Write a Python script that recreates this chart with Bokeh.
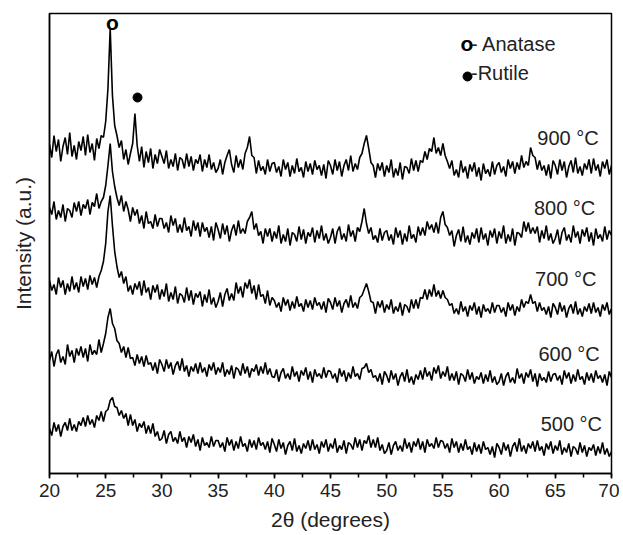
import numpy as np
from bokeh.plotting import figure
from bokeh.models import Range1d, FixedTicker, Label
from bokeh.embed import file_html
from bokeh.resources import INLINE

# 2-theta grid (degrees), 0.2 deg steps from 20 to 70
two_theta = np.round(np.arange(20.0, 70.0001, 0.2), 1)

# Intensities (a.u., already vertically offset as in the figure)
int_900 = [
    329, 316, 338, 322, 334, 312, 327, 336, 319, 341, 317, 328, 314, 332, 323, 337, 318, 339, 321, 330, 313, 335, 325, 338, 336,
    352, 385, 445, 378, 348, 338, 326, 333, 314, 324, 309, 320, 330, 360, 328, 312, 327, 306, 322, 311, 325, 305, 319, 310, 324,
    317, 310, 323, 305, 314, 307, 320, 303, 316, 314, 305, 320, 307, 317, 303, 314, 310, 319, 302, 314, 306, 319, 304, 311, 301,
    305, 314, 299, 311, 318, 324, 309, 301, 318, 306, 314, 304, 320, 326, 337, 318, 316, 300, 313, 303, 307, 299, 314, 302, 310,
    311, 301, 307, 297, 314, 304, 311, 297, 308, 300, 315, 302, 306, 296, 312, 302, 310, 299, 313, 304, 308, 298, 309, 295, 313,
    308, 299, 314, 303, 312, 297, 308, 314, 303, 318, 302, 310, 304, 316, 320, 330, 338, 325, 311, 308, 296, 310, 303, 311, 297,
    308, 301, 314, 296, 305, 298, 311, 294, 307, 306, 300, 315, 303, 313, 302, 313, 311, 322, 314, 325, 322, 336, 320, 326, 318,
    330, 318, 312, 305, 313, 298, 304, 296, 313, 301, 307, 295, 309, 302, 311, 297, 306, 293, 310, 300, 304, 297, 312, 299, 308,
    311, 301, 307, 297, 314, 305, 312, 300, 311, 304, 318, 306, 312, 308, 326, 318, 316, 304, 313, 303, 308, 298, 309, 295, 313,
    308, 299, 314, 303, 312, 296, 307, 313, 301, 316, 300, 307, 298, 310, 304, 314, 300, 315, 303, 309, 297, 312, 305, 314, 299,
    308,
]
int_800 = [
    266, 259, 272, 254, 263, 256, 269, 252, 265, 263, 256, 271, 262, 272, 258, 269, 265, 274, 259, 271, 267, 280, 265, 272, 276,
    288, 308, 330, 302, 287, 276, 268, 278, 262, 272, 264, 252, 266, 258, 264, 250, 258, 245, 262, 250, 252, 245, 259, 247, 255,
    255, 245, 251, 241, 258, 248, 255, 241, 249, 241, 256, 243, 247, 237, 253, 243, 251, 237, 251, 242, 246, 236, 247, 233, 251,
    244, 235, 250, 239, 248, 232, 243, 249, 238, 253, 240, 245, 240, 252, 256, 262, 244, 250, 238, 242, 230, 245, 237, 245, 232,
    242, 235, 248, 230, 239, 232, 245, 228, 241, 239, 232, 247, 234, 244, 230, 241, 237, 246, 231, 243, 235, 248, 233, 240, 230,
    236, 245, 230, 242, 247, 234, 240, 232, 249, 237, 243, 232, 246, 242, 252, 265, 250, 240, 246, 234, 238, 231, 245, 233, 241,
    243, 233, 239, 229, 246, 236, 243, 229, 240, 232, 248, 235, 239, 231, 247, 238, 246, 238, 252, 244, 249, 241, 251, 240, 256,
    262, 249, 246, 238, 243, 227, 238, 244, 232, 247, 231, 238, 229, 241, 235, 245, 231, 246, 234, 240, 228, 243, 236, 245, 230,
    242, 235, 248, 230, 239, 232, 245, 228, 241, 240, 236, 252, 242, 251, 240, 246, 240, 247, 231, 243, 235, 248, 233, 240, 230,
    235, 244, 229, 241, 246, 233, 239, 231, 248, 236, 242, 230, 244, 237, 246, 232, 241, 228, 245, 235, 239, 232, 247, 234, 243,
    238,
]
int_700 = [
    193, 183, 189, 179, 196, 186, 193, 179, 190, 182, 197, 184, 191, 181, 197, 187, 195, 184, 198, 189, 196, 186, 197, 203, 212,
    230, 262, 278, 248, 222, 207, 196, 202, 190, 197, 182, 188, 179, 190, 184, 192, 178, 193, 181, 186, 174, 188, 181, 189, 174,
    184, 177, 190, 172, 181, 174, 187, 170, 180, 178, 171, 186, 173, 183, 169, 180, 176, 182, 167, 179, 171, 184, 169, 176, 166,
    172, 181, 167, 179, 185, 173, 180, 173, 191, 180, 187, 176, 191, 185, 194, 180, 188, 174, 189, 177, 179, 170, 183, 168, 176,
    173, 166, 171, 162, 176, 168, 174, 163, 172, 165, 177, 167, 170, 162, 174, 166, 173, 164, 176, 168, 171, 164, 172, 161, 175,
    171, 164, 176, 167, 173, 161, 170, 174, 166, 178, 166, 171, 165, 176, 178, 184, 190, 182, 172, 171, 160, 172, 166, 173, 161,
    169, 164, 174, 160, 167, 162, 171, 158, 169, 167, 161, 174, 165, 174, 165, 176, 175, 184, 174, 184, 177, 189, 177, 183, 175,
    183, 176, 174, 168, 170, 160, 165, 159, 172, 162, 167, 157, 168, 163, 171, 159, 167, 156, 169, 162, 165, 160, 171, 161, 168,
    168, 161, 166, 157, 171, 163, 169, 158, 167, 162, 174, 166, 172, 170, 179, 170, 172, 162, 171, 163, 166, 159, 167, 156, 170,
    166, 159, 171, 162, 168, 156, 165, 169, 160, 172, 159, 165, 157, 167, 162, 170, 160, 171, 161, 166, 157, 169, 163, 171, 159,
    165,
]
int_600 = [
    113, 122, 107, 119, 124, 111, 117, 109, 129, 117, 123, 111, 125, 118, 127, 116, 125, 112, 129, 119, 123, 119, 134, 121, 130,
    140, 156, 165, 150, 145, 133, 130, 121, 127, 116, 126, 115, 116, 108, 119, 110, 117, 107, 118, 109, 111, 103, 111, 100, 114,
    109, 102, 114, 105, 111, 99, 108, 112, 103, 115, 102, 108, 97, 107, 102, 110, 100, 111, 101, 106, 97, 109, 103, 111, 99,
    106, 101, 111, 97, 104, 99, 108, 95, 106, 104, 98, 110, 100, 107, 96, 105, 102, 109, 98, 107, 100, 111, 99, 105, 97,
    96, 104, 92, 101, 105, 95, 100, 94, 107, 97, 102, 92, 103, 98, 106, 94, 102, 91, 104, 97, 100, 95, 106, 96, 103,
    102, 95, 100, 91, 105, 97, 103, 92, 101, 95, 107, 97, 100, 94, 105, 106, 110, 101, 104, 96, 98, 92, 100, 89, 102,
    98, 91, 103, 94, 100, 88, 97, 101, 92, 104, 91, 97, 89, 99, 94, 103, 94, 106, 97, 102, 93, 106, 100, 108, 95,
    102, 97, 107, 93, 100, 93, 102, 89, 100, 98, 92, 104, 94, 101, 90, 97, 94, 101, 90, 99, 92, 103, 91, 97, 89,
    92, 100, 88, 97, 101, 91, 96, 90, 105, 95, 100, 90, 101, 96, 104, 92, 100, 87, 100, 93, 96, 91, 102, 92, 99,
    100, 93, 98, 89, 103, 95, 101, 90, 99, 92, 104, 94, 97, 89, 101, 93, 100, 91, 103, 95, 98, 91, 99, 88, 102,
    96,
]
int_500 = [
    45, 38, 51, 42, 49, 37, 47, 51, 43, 55, 43, 49, 42, 52, 48, 56, 47, 58, 49, 54, 46, 58, 53, 62, 52,
    62, 64, 73, 76, 67, 66, 58, 63, 55, 60, 48, 59, 48, 54, 42, 50, 46, 52, 40, 48, 40, 50, 37, 42, 33,
    35, 43, 30, 39, 42, 32, 36, 30, 42, 32, 36, 26, 37, 31, 39, 27, 34, 23, 36, 28, 31, 26, 37, 27, 33,
    33, 26, 31, 22, 36, 28, 34, 23, 32, 25, 37, 27, 30, 22, 34, 26, 33, 24, 36, 28, 31, 24, 32, 21, 35,
    29, 22, 34, 25, 31, 19, 28, 32, 23, 35, 22, 28, 20, 30, 25, 33, 23, 34, 24, 29, 20, 32, 26, 34, 22,
    30, 25, 35, 21, 28, 24, 33, 20, 31, 29, 24, 36, 26, 34, 23, 33, 30, 38, 26, 34, 26, 36, 23, 29, 20,
    23, 31, 19, 28, 32, 23, 28, 22, 35, 25, 31, 21, 32, 27, 35, 24, 32, 21, 34, 27, 30, 25, 36, 26, 33,
    32, 25, 30, 21, 35, 26, 32, 21, 30, 23, 34, 24, 27, 19, 31, 22, 29, 20, 32, 24, 26, 19, 27, 16, 30,
    26, 19, 31, 23, 29, 17, 27, 31, 22, 35, 22, 28, 20, 30, 25, 32, 22, 33, 23, 27, 18, 30, 24, 32, 20,
    28, 23, 33, 19, 26, 21, 30, 17, 27, 25, 19, 31, 21, 28, 17, 26, 23, 29, 18, 27, 20, 31, 19, 25, 17,
    22,
]

series = [int_900, int_800, int_700, int_600, int_500]
temp_labels = ["900 \u00b0C", "800 \u00b0C", "700 \u00b0C", "600 \u00b0C", "500 \u00b0C"]
x_ticks = [20, 25, 30, 35, 40, 45, 50, 55, 60, 65, 70]

FONT = "Liberation Sans"

p = figure(width=619, height=534, output_backend="svg", toolbar_location=None,
           x_range=Range1d(20, 70), y_range=Range1d(0, 460),
           min_border_left=49, min_border_right=8, min_border_top=13, min_border_bottom=61)
p.background_fill_color = "white"
p.border_fill_color = "white"
p.outline_line_color = "black"
p.outline_line_width = 1.5
p.xgrid.visible = False
p.ygrid.visible = False

for s in series:
    n = min(len(two_theta), len(s))
    p.line(two_theta[:n], s[:n], line_color="black", line_width=1.6)

# x axis
xa = p.xaxis[0]
xa.ticker = FixedTicker(ticks=x_ticks, minor_ticks=list(np.arange(20, 70.01, 2.5)))
xa.axis_line_width = 1.5
xa.major_tick_line_width = 1.5
xa.minor_tick_line_width = 1.5
xa.major_tick_in = 0
xa.major_tick_out = 5
xa.minor_tick_in = 0
xa.minor_tick_out = 4
xa.major_label_text_font = FONT
xa.major_label_text_font_size = "19px"
xa.major_label_text_color = "#222222"
xa.major_label_standoff = 5
xa.axis_label = "2\u03b8 (degrees)"
xa.axis_label_text_font = FONT
xa.axis_label_text_font_size = "21px"
xa.axis_label_text_font_style = "normal"
xa.axis_label_text_color = "#222222"
xa.axis_label_standoff = 8

# y axis (no ticks)
ya = p.yaxis[0]
ya.ticker = FixedTicker(ticks=[])
ya.major_tick_out = 0
ya.major_tick_in = 0
ya.minor_tick_out = 0
ya.minor_tick_in = 0
ya.major_label_text_font_size = "0px"
ya.axis_line_width = 1.5
ya.axis_label = "Intensity (a.u.)"
ya.axis_label_text_font = FONT
ya.axis_label_text_font_size = "21px"
ya.axis_label_text_font_style = "normal"
ya.axis_label_text_color = "#222222"
ya.axis_label_standoff = 15

# temperature labels
label_x = [63.4, 63.1, 63.2, 63.5, 63.7]
label_y = [336, 266, 195, 120, 50]
for t, lx, ly in zip(temp_labels, label_x, label_y):
    p.add_layout(Label(x=lx, y=ly, text=t, text_font=FONT, text_font_size="20px",
                       text_color="#222222", text_baseline="middle", text_align="left"))

# phase markers
p.add_layout(Label(x=25.6, y=451, text="o", text_font=FONT, text_font_size="21px",
                   text_font_style="bold", text_color="black", text_baseline="middle", text_align="center"))
p.scatter([27.83], [376], size=9, marker="circle", color="black")

# legend text
p.add_layout(Label(x=56.57, y=430, text="o", text_font=FONT, text_font_size="21px",
                   text_font_style="bold", text_color="black", text_baseline="middle", text_align="left"))
p.add_layout(Label(x=57.5, y=430, text="- Anatase", text_font=FONT, text_font_size="20px",
                   text_color="#222222", text_baseline="middle", text_align="left"))
p.scatter([57.19], [397], size=9, marker="circle", color="black")
p.add_layout(Label(x=57.5, y=401, text="-Rutile", text_font=FONT, text_font_size="20px",
                   text_color="#222222", text_baseline="middle", text_align="left"))

open("out.html", "w").write(file_html(p, INLINE))
